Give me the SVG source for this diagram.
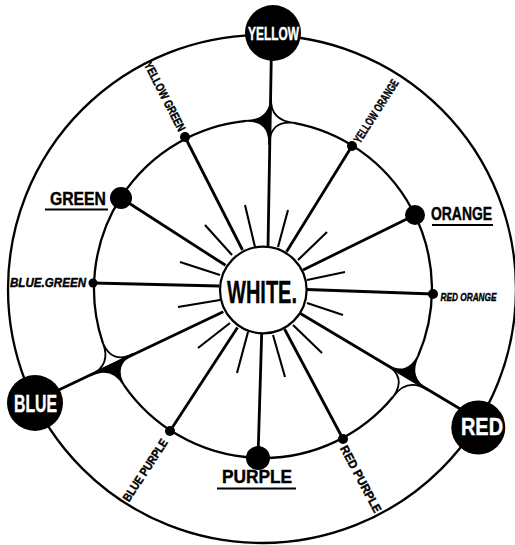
<svg xmlns="http://www.w3.org/2000/svg" width="515" height="545" viewBox="0 0 515 545">
<style>
.ln{stroke:#000;stroke-width:2.8;fill:none;stroke-linecap:butt}
.ring{stroke:#000;stroke-width:2.3;fill:none}
.ray{stroke:#000;stroke-width:2.1}
.cusp{stroke:#000;stroke-width:1.8;stroke-linejoin:round}
.lab{font-family:"Liberation Sans",Arial,sans-serif;font-weight:bold;stroke:#000;stroke-width:0.4}
.lab.wt{fill:#fff;stroke:#fff}
.sm{font-size:12px}
.it{font-style:italic}
.ul{stroke:#000;stroke-width:1.8}
</style>
<defs>
<g id="astroid">
<path class="cusp" fill="#000" d="M24,0 Q0,0 -1.7,-23.9 Q0,0 -24,0 Z"/>
<path class="cusp" fill="none" d="M24,0 Q0,0 -1.7,23.9 Q0,0 -24,0"/>
</g>
</defs>
<rect width="515" height="545" fill="#fff"/>
<g id="connectors">
<circle class="ring" cx="262" cy="289" r="254"/>
<path class="ring" d="M293.9,122.9 A169 169 0 0 1 418.1,356.0"/>
<path class="ring" d="M393.1,396.8 A169 169 0 0 1 124.1,385.3"/>
<path class="ring" d="M102.7,342.5 A169 169 0 0 1 246.1,120.8"/>
<line class="ln" x1="271.5" y1="45" x2="268" y2="247"/>
<line class="ln" x1="185" y1="137" x2="242.5" y2="250"/>
<line class="ln" x1="352" y1="146" x2="286.5" y2="251.7"/>
<line class="ln" x1="121" y1="198" x2="225.5" y2="265.3"/>
<line class="ln" x1="415" y1="215" x2="303" y2="270"/>
<line class="ln" x1="93" y1="283" x2="219.3" y2="286"/>
<line class="ln" x1="433" y1="294" x2="306.8" y2="289.5"/>
<line class="ln" x1="35" y1="401.3" x2="223.3" y2="311.7"/>
<line class="ln" x1="300" y1="313.3" x2="462" y2="410"/>
<line class="ln" x1="170" y1="431" x2="237.5" y2="327.5"/>
<line class="ln" x1="258" y1="458" x2="261.7" y2="333.3"/>
<line class="ln" x1="343" y1="439" x2="284.5" y2="329"/>
<g transform="translate(263,289) rotate(-87.6) translate(169,0)">
<path class="cusp" fill="#000" d="M22,0 Q0,0 -1.7,-23.9 Q0,0 -24,0 Z"/>
<path class="cusp" fill="none" d="M22,0 Q0,0 -1.7,23.9 Q0,0 -24,0"/>
</g>
<use href="#astroid" transform="translate(263,289) rotate(153.4) translate(169,0)"/>
<use href="#astroid" transform="translate(263,289) rotate(31.5) translate(169,0)"/>
</g>
<g id="rays" class="ray">
<line x1="245" y1="205" x2="255" y2="247"/>
<line x1="205" y1="225" x2="232" y2="255"/>
<line x1="180" y1="262" x2="220" y2="275"/>
<line x1="178" y1="307" x2="220" y2="300"/>
<line x1="198" y1="348" x2="230" y2="323"/>
<line x1="237" y1="373" x2="248" y2="332"/>
<line x1="273" y1="335" x2="285" y2="377"/>
<line x1="293" y1="325" x2="322" y2="353"/>
<line x1="307" y1="303" x2="343" y2="315"/>
<line x1="307" y1="280" x2="345" y2="272"/>
<line x1="298" y1="260" x2="327" y2="232"/>
<line x1="278" y1="247" x2="288" y2="210"/>
</g>
<g id="node-white">
<circle cx="263.3" cy="290" r="43.3" fill="#fff" stroke="#000" stroke-width="2.2"/>
<text class="lab" x="262" y="303" font-size="31" text-anchor="middle" textLength="70" lengthAdjust="spacingAndGlyphs">WHITE.</text>
</g>
<g id="node-yellow">
<circle cx="273" cy="33" r="28" fill="#000"/>
<text class="lab wt" x="273.5" y="40" font-size="18" text-anchor="middle" textLength="51" lengthAdjust="spacingAndGlyphs">YELLOW</text>
</g>
<g id="node-blue">
<circle cx="35" cy="403" r="28" fill="#000"/>
<text class="lab wt" x="35.5" y="412" font-size="23" text-anchor="middle" textLength="43" lengthAdjust="spacingAndGlyphs">BLUE</text>
</g>
<g id="node-red">
<circle cx="478.3" cy="427.5" r="27" fill="#000"/>
<text class="lab wt" x="482" y="435" font-size="23" text-anchor="middle" textLength="42" lengthAdjust="spacingAndGlyphs">RED</text>
</g>
<g id="node-green">
<circle cx="121" cy="198" r="11" fill="#000"/>
<text class="lab" x="78" y="205" font-size="18" text-anchor="middle" textLength="56" lengthAdjust="spacingAndGlyphs">GREEN</text>
<line class="ul" x1="45" y1="209.5" x2="108" y2="209.5"/>
</g>
<g id="node-orange">
<circle cx="415" cy="215" r="10" fill="#000"/>
<text class="lab" x="461.5" y="220" font-size="18" text-anchor="middle" textLength="61" lengthAdjust="spacingAndGlyphs">ORANGE</text>
<line class="ul" x1="432" y1="225" x2="493" y2="225"/>
</g>
<g id="node-purple">
<circle cx="258" cy="458" r="12" fill="#000"/>
<text class="lab" x="257" y="483" font-size="17.5" text-anchor="middle" textLength="70" lengthAdjust="spacingAndGlyphs">PURPLE</text>
<line class="ul" x1="217" y1="488.5" x2="296" y2="488.5"/>
</g>
<g id="node-yellow-green">
<circle cx="185" cy="137" r="5" fill="#000"/>
<text class="lab sm" transform="translate(165,96.5) rotate(62.8)" y="4.3" text-anchor="middle" textLength="76" lengthAdjust="spacingAndGlyphs">YELLOW GREEN</text>
</g>
<g id="node-yellow-orange">
<circle cx="352" cy="146" r="5" fill="#000"/>
<text class="lab sm" transform="translate(376,111) rotate(-57.5)" y="4.3" text-anchor="middle" textLength="73" lengthAdjust="spacingAndGlyphs">YELLOW ORANGE</text>
</g>
<g id="node-blue-green">
<circle cx="93" cy="283" r="4.5" fill="#000"/>
<text class="lab it" x="48" y="287" font-size="12.5" text-anchor="middle" textLength="76" lengthAdjust="spacingAndGlyphs">BLUE.GREEN</text>
</g>
<g id="node-red-orange">
<circle cx="433" cy="294" r="5" fill="#000"/>
<text class="lab it" x="468.5" y="300.5" font-size="11" text-anchor="middle" textLength="56" lengthAdjust="spacingAndGlyphs">RED ORANGE</text>
</g>
<g id="node-blue-purple">
<circle cx="170" cy="431" r="5" fill="#000"/>
<text class="lab sm" transform="translate(145,470) rotate(-56.8)" y="4.3" text-anchor="middle" textLength="72" lengthAdjust="spacingAndGlyphs">BLUE PURPLE</text>
</g>
<g id="node-red-purple">
<circle cx="343" cy="439" r="5" fill="#000"/>
<text class="lab sm" transform="translate(361,479) rotate(62)" y="4.3" text-anchor="middle" textLength="74" lengthAdjust="spacingAndGlyphs">RED PURPLE</text>
</g>
</svg>
